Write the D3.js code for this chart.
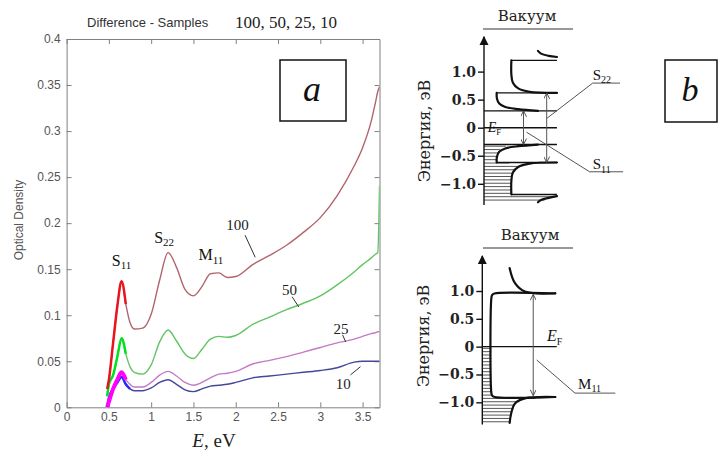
<!DOCTYPE html>
<html>
<head>
<meta charset="utf-8">
<script src="https://cdn.jsdelivr.net/npm/d3@7"></script>
<style>
body { margin: 0; background: #fff; }
svg { display: block; }
</style>
</head>
<body>
<div id="chart"></div>
<script>
// ---- panel a data ----
var energy = [0.48, 0.5, 0.55, 0.6, 0.65, 0.7, 0.75, 0.8, 0.9, 1.0, 1.1, 1.2, 1.3, 1.4, 1.5, 1.6, 1.7, 1.8, 1.9, 2.0, 2.2, 2.4, 2.6, 2.8, 3.0, 3.2, 3.4, 3.5, 3.6, 3.65, 3.68, 3.7];
var od100 = [0.02, 0.03, 0.07, 0.11, 0.137, 0.112, 0.092, 0.085, 0.086, 0.101, 0.138, 0.168, 0.152, 0.128, 0.121, 0.131, 0.145, 0.146, 0.141, 0.142, 0.155, 0.165, 0.176, 0.19, 0.206, 0.23, 0.262, 0.282, 0.31, 0.33, 0.343, 0.348];
var od50 = [0.012, 0.025, 0.035, 0.055, 0.075, 0.058, 0.044, 0.038, 0.036, 0.046, 0.071, 0.084, 0.072, 0.058, 0.053, 0.063, 0.074, 0.077, 0.076, 0.078, 0.09, 0.098, 0.106, 0.113, 0.121, 0.133, 0.147, 0.155, 0.162, 0.166, 0.168, 0.24];
var od25 = [0.0, 0.006, 0.02, 0.03, 0.038, 0.03, 0.025, 0.022, 0.022, 0.027, 0.035, 0.039, 0.034, 0.027, 0.024, 0.027, 0.032, 0.036, 0.037, 0.039, 0.047, 0.051, 0.055, 0.06, 0.065, 0.07, 0.074, 0.077, 0.08, 0.081, 0.082, 0.082];
var od10 = [0.0, 0.01, 0.02, 0.027, 0.033, 0.025, 0.02, 0.018, 0.018, 0.021, 0.027, 0.03, 0.025, 0.019, 0.017, 0.02, 0.023, 0.024, 0.025, 0.027, 0.032, 0.034, 0.036, 0.038, 0.04, 0.043, 0.049, 0.05, 0.05, 0.05, 0.05, 0.05];

var xTicks = [0, 0.5, 1, 1.5, 2, 2.5, 3, 3.5];
var yTicks = [0, 0.05, 0.1, 0.15, 0.2, 0.25, 0.3, 0.35, 0.4];

// curve labels: text, E, OD of label, leader from/to
var curveLabels = [
    {text: "100", e: 2.02, v: 0.193, from: [2.11, 0.187], to: [2.23, 0.163]},
    {text: "50", e: 2.635, v: 0.122, from: [2.667, 0.12], to: [2.745, 0.109]},
    {text: "25", e: 3.245, v: 0.08, from: [3.263, 0.0787], to: [3.30, 0.071]},
    {text: "10", e: 3.27, v: 0.02, from: [3.357, 0.0352], to: [3.475, 0.0441]}
];
var peakLabels = [
    {main: "S", sub: "11", e: 0.534, v: 0.1536},
    {main: "S", sub: "22", e: 1.035, v: 0.1786},
    {main: "M", sub: "11", e: 1.56, v: 0.16}
];

// ---- panel b data: [DOS, energy eV] ----
var bTicks = [1.0, 0.5, 0, -0.5, -1.0];

var semiLines = [
    [[0, 0.3], [0.96, 0.3]],
    [[0, 0], [0.96, 0]],
    [[0, -0.3], [0.96, -0.3]],
    [[0.167, 0.62], [0.96, 0.62]],
    [[0.167, -0.62], [0.96, -0.62]],
    [[0.36, 1.2], [0.96, 1.2]],
    [[0.36, -1.19], [0.96, -1.19]]
];
var semiCurves = [
    [[0.71, 0.3], [0.45, 0.33], [0.28, 0.37], [0.2, 0.43], [0.17, 0.52], [0.167, 0.62]],
    [[0.71, -0.3], [0.45, -0.33], [0.28, -0.37], [0.2, -0.43], [0.17, -0.52], [0.167, -0.62]],
    [[0.96, 0.62], [0.6, 0.64], [0.45, 0.7], [0.38, 0.8], [0.36, 0.95], [0.36, 1.2]],
    [[0.96, -0.62], [0.6, -0.64], [0.45, -0.7], [0.38, -0.8], [0.36, -0.95], [0.36, -1.19]],
    [[0.96, 1.26], [0.85, 1.28], [0.75, 1.32], [0.71, 1.37]],
    [[0.96, -1.22], [0.85, -1.25], [0.75, -1.29], [0.71, -1.33]]
];
var semiHatchEdge = [[0.3, -0.32], [0.2, -0.4], [0.167, -0.5], [0.167, -0.6], [0.5, -0.66], [0.38, -0.78], [0.36, -0.95], [0.36, -1.18], [0.96, -1.22], [0.75, -1.31]];
var semiArrows = [
    {dos: 0.52, from: 0.3, to: -0.3},
    {dos: 0.825, from: 0.62, to: -0.62}
];
var semiNotes = [
    {main: "S", sub: "22", dos: 1.43, e: 0.85, leader: [[0.83, 0.17], [1.43, 0.795], [1.79, 0.795]]},
    {main: "S", sub: "11", dos: 1.43, e: -0.74, leader: [[0.56, -0.08], [1.39, -0.786], [1.83, -0.786]]}
];

var metalLines = [
    [[0, 0], [0.98, 0]]
];
var metalCurves = [
    [[0.96, 0.955], [0.16, 0.955], [0.13, 0.93], [0.12, 0.88], [0.12, -0.84], [0.13, -0.88], [0.16, -0.905], [0.96, -0.905]],
    [[0.96, 0.96], [0.56, 0.99], [0.43, 1.14], [0.36, 1.41]],
    [[0.96, -0.905], [0.56, -0.93], [0.43, -1.02], [0.38, -1.2], [0.36, -1.37]]
];
var metalHatchEdge = [[0.12, -0.02], [0.12, -0.88], [0.7, -0.93], [0.5, -0.98], [0.43, -1.05], [0.38, -1.2], [0.36, -1.37]];
var metalArrows = [
    {dos: 0.67, from: 0.94, to: -0.88}
];
var metalNotes = [
    {main: "M", sub: "11", dos: 1.26, e: -0.758, leader: [[0.716, -0.24], [1.22, -0.835], [1.75, -0.835]]}
];

// ---- svg ----
var svg = d3.select("#chart")
    .append("svg")
    .attr("width", 719)
    .attr("height", 453)
    .style("background", "#fff");

var defs = svg.append("defs");
defs.append("clipPath").attr("id", "plotClip")
    .append("rect").attr("x", 66.6).attr("y", 39).attr("width", 313).attr("height", 368.3);
defs.append("marker")
    .attr("id", "axisArrow")
    .attr("viewBox", "0 0 10 10")
    .attr("refX", 9).attr("refY", 5)
    .attr("markerWidth", 9).attr("markerHeight", 12)
    .attr("markerUnits", "userSpaceOnUse")
    .attr("orient", "auto")
    .append("path").attr("d", "M0,0L10,5L0,10z").attr("fill", "#111");
defs.append("marker")
    .attr("id", "thinArrow")
    .attr("viewBox", "0 0 10 10")
    .attr("refX", 10).attr("refY", 5)
    .attr("markerWidth", 7).attr("markerHeight", 6)
    .attr("markerUnits", "userSpaceOnUse")
    .attr("orient", "auto-start-reverse")
    .append("path").attr("d", "M0,0L10,5L0,10").attr("fill", "none").attr("stroke", "#444").attr("stroke-width", 1.5);

// ===== panel a =====
var x = d3.scaleLinear().domain([0, 3.7]).range([66.6, 379.5]);
var y = d3.scaleLinear().domain([0, 0.4]).range([407.3, 39]);

var frameColor = "#808080";

function styleAxis(g) {
    g.selectAll("path.domain").attr("stroke", frameColor);
    g.selectAll(".tick line").attr("stroke", frameColor);
    g.selectAll(".tick text")
        .attr("font-family", "Liberation Sans, Arial, sans-serif")
        .attr("font-size", "12px")
        .attr("fill", "#555");
}

svg.append("g")
    .attr("transform", "translate(0,407.3)")
    .call(d3.axisBottom(x).tickValues(xTicks).tickSize(-5).tickSizeOuter(0).tickPadding(5).tickFormat(d3.format("")))
    .call(styleAxis);
svg.append("g")
    .attr("transform", "translate(0,39)")
    .call(d3.axisTop(x).tickValues(xTicks).tickSize(-5).tickSizeOuter(0).tickFormat(""))
    .call(styleAxis);
svg.append("g")
    .attr("transform", "translate(66.6,0)")
    .call(d3.axisLeft(y).tickValues(yTicks).tickSize(-5).tickSizeOuter(0).tickPadding(6).tickFormat(d3.format("")))
    .call(styleAxis);
svg.append("g")
    .attr("transform", "translate(379.5,0)")
    .call(d3.axisRight(y).tickValues(yTicks).tickSize(-5).tickSizeOuter(0).tickFormat(""))
    .call(styleAxis);

var series = [
    {values: od10, color: "#46469a", bright: "#2a2aff", cut: 0.76, width: 2.5},
    {values: od25, color: "#c47ac4", bright: "#ff00ff", cut: 0.7, width: 4},
    {values: od50, color: "#62c462", bright: "#00e020", cut: 0.72, width: 2.5},
    {values: od100, color: "#b2646c", bright: "#e8141e", cut: 0.74, width: 2.5}
];

var line = d3.line()
    .x(d => x(d[0]))
    .y(d => y(d[1]))
    .curve(d3.curveMonotoneX);

var curves = svg.append("g").attr("clip-path", "url(#plotClip)");
series.forEach(function (s) {
    var pts = energy.map((e, i) => [e, s.values[i]]);
    curves.append("path")
        .attr("d", line(pts))
        .attr("fill", "none")
        .attr("stroke", s.color)
        .attr("stroke-width", 1.4);
});
series.forEach(function (s) {
    var pts = energy.map((e, i) => [e, s.values[i]]).filter(d => d[0] <= s.cut);
    curves.append("path")
        .attr("d", line(pts))
        .attr("fill", "none")
        .attr("stroke", s.bright)
        .attr("stroke-width", s.width)
        .attr("stroke-linejoin", "round");
});

// curve labels
curveLabels.forEach(function (c) {
    svg.append("text")
        .attr("x", x(c.e))
        .attr("y", y(c.v))
        .attr("text-anchor", "middle")
        .attr("font-family", "Liberation Serif, Times New Roman, serif")
        .attr("font-size", "15px")
        .attr("fill", "#222")
        .text(c.text);
    svg.append("line")
        .attr("x1", x(c.from[0])).attr("y1", y(c.from[1]))
        .attr("x2", x(c.to[0])).attr("y2", y(c.to[1]))
        .attr("stroke", "#333")
        .attr("stroke-width", 1);
});

function subText(g, px, py, main, sub, size, subSize, italic, anchor) {
    var t = g.append("text")
        .attr("x", px)
        .attr("y", py)
        .attr("text-anchor", anchor || "start")
        .attr("font-family", "Liberation Serif, Times New Roman, serif")
        .attr("font-size", size + "px")
        .attr("fill", "#111");
    t.append("tspan").attr("font-style", italic ? "italic" : "normal").text(main);
    t.append("tspan").attr("font-size", subSize + "px").attr("dy", size * 0.22).text(sub);
    return t;
}

peakLabels.forEach(function (p) {
    subText(svg, x(p.e), y(p.v), p.main, p.sub, 16, 11, false);
});

// title
svg.append("text")
    .attr("x", 87).attr("y", 27)
    .attr("font-family", "Liberation Sans, Arial, sans-serif")
    .attr("font-size", "13px")
    .attr("fill", "#333")
    .text("Difference - Samples");
svg.append("text")
    .attr("x", 235).attr("y", 28)
    .attr("font-family", "Liberation Serif, Times New Roman, serif")
    .attr("font-size", "17px")
    .attr("fill", "#222")
    .text("100, 50, 25, 10");

// axis titles
svg.append("text")
    .attr("transform", "translate(23,220) rotate(-90)")
    .attr("text-anchor", "middle")
    .attr("font-family", "Liberation Sans, Arial, sans-serif")
    .attr("font-size", "12px")
    .attr("fill", "#555")
    .text("Optical Density");

var xTitle = svg.append("text")
    .attr("x", 214).attr("y", 447)
    .attr("text-anchor", "middle")
    .attr("font-family", "Liberation Serif, Times New Roman, serif")
    .attr("font-size", "19px")
    .attr("fill", "#222");
xTitle.append("tspan").attr("font-style", "italic").text("E");
xTitle.append("tspan").text(", eV");

// box a
svg.append("rect")
    .attr("x", 280).attr("y", 60).attr("width", 66).attr("height", 61)
    .attr("fill", "#fff").attr("stroke", "#111").attr("stroke-width", 1.5);
svg.append("text")
    .attr("x", 312).attr("y", 101)
    .attr("text-anchor", "middle")
    .attr("font-family", "Liberation Serif, Times New Roman, serif")
    .attr("font-style", "italic")
    .attr("font-size", "36px")
    .attr("fill", "#111")
    .text("a");

// ===== panel b =====
var serif = "DejaVu Serif, serif";
var tickFmt = d => d === 0 ? "0" : (d < 0 ? "\u2212" : "") + Math.abs(d).toFixed(1);

function drawDiagram(cfg) {
    var g = svg.append("g");
    var dx = d3.scaleLinear().domain([0, 1]).range([cfg.axisX, cfg.axisX + 76]);
    var ey = d3.scaleLinear().domain([-1, 1]).range(cfg.eRange);
    var path = d3.line().x(d => dx(d[0])).y(d => ey(d[1]));
    var smooth = d3.line().x(d => dx(d[0])).y(d => ey(d[1])).curve(d3.curveCatmullRom.alpha(0.5));

    // title
    g.append("text")
        .attr("x", cfg.titleX).attr("y", cfg.titleY)
        .attr("text-anchor", "middle")
        .attr("font-family", serif)
        .attr("font-size", "15px")
        .attr("fill", "#222")
        .text("Вакуум");
    g.append("line")
        .attr("x1", 483).attr("x2", 573)
        .attr("y1", cfg.titleY + 8).attr("y2", cfg.titleY + 8)
        .attr("stroke", "#333").attr("stroke-width", 1.2);

    // hatching
    var edge = d3.scaleLinear()
        .domain(cfg.hatchEdge.map(d => d[1]))
        .range(cfg.hatchEdge.map(d => d[0]));
    var hatchE = d3.range(cfg.hatchTop, cfg.hatchBottom, -0.06);
    g.selectAll(".hatch")
        .data(hatchE)
        .enter()
        .append("line")
        .attr("x1", dx(0))
        .attr("x2", d => dx(edge(d)))
        .attr("y1", d => ey(d))
        .attr("y2", d => ey(d))
        .attr("stroke", "#444")
        .attr("stroke-width", 0.9);

    // levels
    cfg.lines.forEach(function (l) {
        g.append("path").attr("d", path(l))
            .attr("fill", "none").attr("stroke", "#111").attr("stroke-width", 1.4);
    });
    cfg.curves.forEach(function (c) {
        g.append("path").attr("d", smooth(c))
            .attr("fill", "none").attr("stroke", "#111").attr("stroke-width", 2.2)
            .attr("stroke-linecap", "round");
    });

    // transitions
    cfg.arrows.forEach(function (a) {
        g.append("line")
            .attr("x1", dx(a.dos)).attr("x2", dx(a.dos))
            .attr("y1", ey(a.from)).attr("y2", ey(a.to))
            .attr("stroke", "#555").attr("stroke-width", 1)
            .attr("marker-start", "url(#thinArrow)")
            .attr("marker-end", "url(#thinArrow)");
    });

    // energy axis
    g.append("line")
        .attr("x1", dx(0)).attr("x2", dx(0))
        .attr("y1", ey(cfg.axisFrom)).attr("y2", ey(cfg.axisTo))
        .attr("stroke", "#111").attr("stroke-width", 1.4)
        .attr("marker-end", "url(#axisArrow)");
    var ax = g.append("g")
        .attr("transform", "translate(" + dx(0) + ",0)")
        .call(d3.axisLeft(ey).tickValues(bTicks).tickFormat(tickFmt).tickSize(6).tickSizeOuter(0).tickPadding(2));
    ax.select("path.domain").remove();
    ax.selectAll(".tick line").attr("stroke", "#111").attr("stroke-width", 1.4);
    ax.selectAll(".tick text")
        .attr("font-family", serif)
        .attr("font-size", "14px")
        .attr("font-weight", "bold")
        .attr("fill", "#222");

    g.append("text")
        .attr("transform", "translate(" + cfg.labelX + "," + cfg.labelY + ") rotate(-90)")
        .attr("text-anchor", "middle")
        .attr("font-family", serif)
        .attr("font-size", "16px")
        .attr("fill", "#222")
        .text("Энергия, эВ");

    // Fermi label
    subText(g, dx(cfg.fermi[0]), ey(cfg.fermi[1]), "E", "F", cfg.fermiSize, cfg.fermiSize * 0.62, true);

    // notes with leaders
    cfg.notes.forEach(function (n) {
        g.append("path").attr("d", path(n.leader))
            .attr("fill", "none").attr("stroke", "#555").attr("stroke-width", 1);
        subText(g, dx(n.dos), ey(n.e), n.main, n.sub, 15, 10, false);
    });
    return g;
}

drawDiagram({
    axisX: 484, eRange: [183.8, 71.6],
    titleX: 527, titleY: 21,
    lines: semiLines, curves: semiCurves,
    hatchEdge: semiHatchEdge, hatchTop: -0.33, hatchBottom: -1.32,
    arrows: semiArrows, notes: semiNotes,
    axisFrom: -1.38, axisTo: 1.62,
    labelX: 430, labelY: 131,
    fermi: [0.05, -0.07], fermiSize: 14
});

drawDiagram({
    axisX: 482.3, eRange: [402.3, 291],
    titleX: 530, titleY: 240,
    lines: metalLines, curves: metalCurves,
    hatchEdge: metalHatchEdge, hatchTop: -0.03, hatchBottom: -1.38,
    arrows: metalArrows, notes: metalNotes,
    axisFrom: -1.4, axisTo: 1.63,
    labelX: 429, labelY: 336,
    fermi: [0.85, 0.1], fermiSize: 16
});

// box b
svg.append("rect")
    .attr("x", 665).attr("y", 60).attr("width", 52).attr("height", 62)
    .attr("fill", "#fff").attr("stroke", "#111").attr("stroke-width", 1.5);
svg.append("text")
    .attr("x", 690).attr("y", 101)
    .attr("text-anchor", "middle")
    .attr("font-family", "Liberation Serif, Times New Roman, serif")
    .attr("font-style", "italic")
    .attr("font-size", "34px")
    .attr("fill", "#111")
    .text("b");
</script>
</body>
</html>
